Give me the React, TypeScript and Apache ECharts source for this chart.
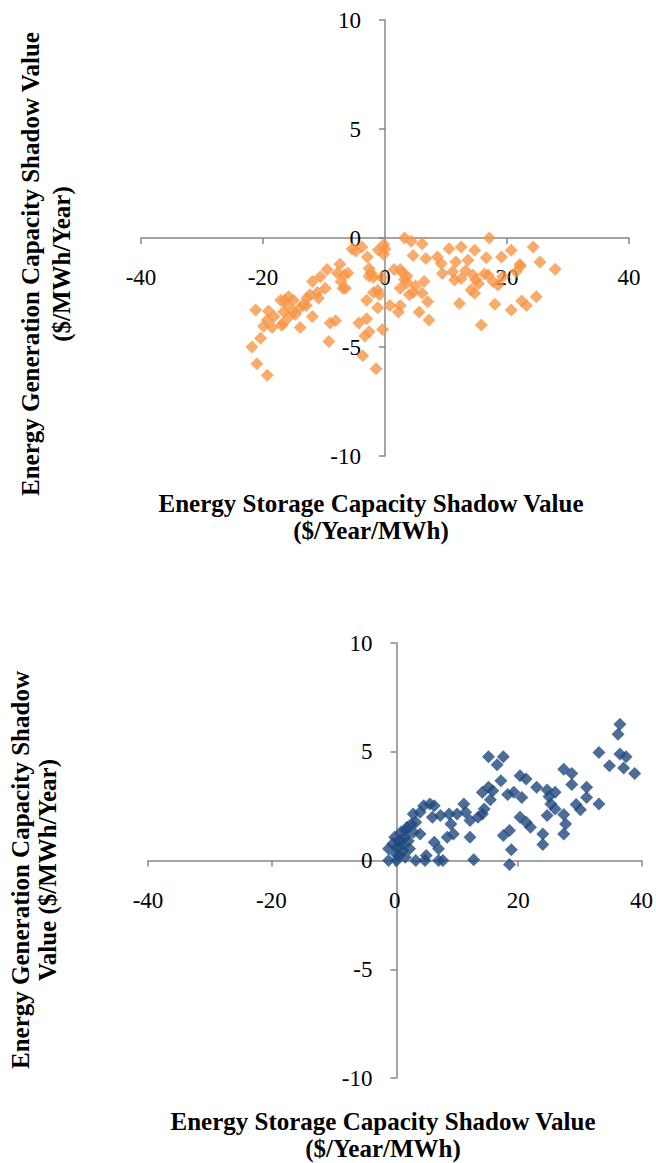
import React, { useEffect, useRef } from "react";
import * as echarts from "echarts";

const xTicks = [-40, -20, 0, 20, 40];
const yTicks = [-10, -5, 0, 5, 10];

const xTitleLines = ["Energy Storage Capacity Shadow Value", "($/Year/MWh)"];
const yTitleTopLines = ["Energy Generation Capacity Shadow Value", "($/MWh/Year)"];
const yTitleBottomLines = ["Energy Generation Capacity Shadow", "Value ($/MWh/Year)"];

// Top panel: [storage shadow value, generation shadow value]
const topScatter: [number, number][] = [
  [3.2, 0], [4.3, -0.15], [6.1, -0.26], [4.6, -0.8], [-5.4, -0.5], [-4.8, -0.6], [-3.8, -0.41],
  [-2.9, -0.87], [-1.1, -0.55], [-0.2, -0.3], [0, -0.5], [-0.2, -0.75],
  [17.1, 0], [24.3, -0.41], [20.7, -0.56], [25.4, -1.1], [27.9, -1.43], [22.1, -1.22], [19.1, -0.87],
  [16.6, -0.91], [14.7, -0.56], [12.5, -0.41], [10.5, -0.49], [13.6, -1.02], [11.6, -1.1], [8.6, -0.87],
  [9.2, -1.17], [6.7, -0.94], [9.4, -1.63], [11.1, -1.55], [11.4, -1.93], [12.5, -1.86], [14.4, -1.7],
  [14.9, -1.93], [16.9, -1.7], [17.7, -2.0], [18.5, -2.16], [19.3, -1.78], [14.1, -2.39], [14.7, -2.54],
  [12.2, -3.0], [18.0, -3.04], [20.7, -3.3], [22.4, -2.89], [23.2, -3.1], [24.8, -2.69], [15.8, -3.99],
  [7.0, -2.92], [7.2, -3.76], [6.4, -2.0], [6.1, -2.54], [15.3, -2.1], [16.3, -1.65], [13.2, -1.5],
  [21.5, -1.55], [22.2, -1.3],
  [1.5, -1.45], [2.5, -1.45], [2.9, -1.6], [3.6, -1.75], [3.2, -1.9], [3.6, -2.05], [5.0, -2.2],
  [4.6, -2.5], [2.5, -2.3], [2.5, -3.1], [2.2, -3.4], [0.8, -3.1], [5.6, -3.4], [4.0, -2.6],
  [-1.2, -2.4], [-0.9, -2.6], [-1.9, -2.5], [-1.2, -3.2], [-3.0, -2.85], [-2.3, -1.6], [-1.9, -1.8],
  [-2.6, -1.4], [-0.55, -1.8], [-2.6, -1.76], [-3.0, -3.7], [-4.3, -3.9], [-2.6, -4.3], [-3.3, -4.5],
  [-0.4, -4.2], [-3.65, -5.4], [-1.45, -6.0],
  [-8.1, -3.8], [-9.0, -3.9], [-9.2, -4.75], [-7.4, -1.2], [-9.5, -1.45], [-7.8, -1.6], [-6.7, -1.7],
  [-6.1, -1.6], [-7.2, -2.0], [-6.5, -2.3], [-6.9, -2.3], [-9.8, -2.3], [-10.6, -1.78], [-11.9, -2.0],
  [-11.1, -2.5], [-10.9, -2.75], [-12.3, -2.6], [-12.8, -2.75], [-12.9, -3.1], [-13.9, -3.2],
  [-13.4, -3.05], [-14.7, -3.5], [-15.7, -3.6], [-16.7, -3.9], [-17.1, -2.85], [-16.4, -2.85],
  [-15.8, -2.7], [-15.0, -2.85], [-16.0, -3.1], [-16.6, -3.38], [-15.0, -3.38], [-13.9, -4.1],
  [-11.9, -3.6], [-18.2, -3.6], [-19.1, -3.35], [-21.2, -3.3], [-19.3, -3.76], [-19.9, -4.05],
  [-18.5, -4.1], [-16.9, -4.0], [-20.4, -4.6], [-21.8, -5.0], [-21.0, -5.77], [-19.3, -6.3],
];

// Bottom panel: [storage shadow value, generation shadow value]
const bottomScatter: [number, number][] = [
  [36.5, 6.27], [36.2, 5.81], [33.1, 4.97], [36.5, 4.9], [37.5, 4.77], [34.8, 4.36], [37.1, 4.25],
  [38.9, 4.0], [15.2, 4.77], [17.6, 4.77], [16.6, 4.4], [17.2, 3.67], [20.3, 3.9], [21.3, 3.75],
  [23.0, 3.37], [27.4, 4.2], [28.7, 4.0], [28.7, 3.5], [31.1, 3.37], [31.1, 2.9], [33.1, 2.6],
  [29.4, 2.57], [30.1, 2.33], [24.7, 3.24], [26.0, 3.14], [25.0, 2.94], [25.3, 2.6], [26.0, 2.37],
  [24.7, 2.07], [27.4, 2.11], [27.7, 1.68], [27.4, 1.22], [24.0, 1.22], [24.0, 0.73], [20.6, 2.9],
  [19.3, 3.14], [18.3, 3.03], [20.3, 1.99], [21.3, 1.76], [22.0, 1.53], [17.6, 1.15], [18.6, 1.38],
  [18.9, 0.49], [18.6, -0.18], [14.2, 3.14], [15.2, 3.37], [15.9, 3.21], [15.5, 2.79], [14.5, 2.37],
  [14.2, 2.14], [13.5, 1.99], [11.2, 2.6], [11.5, 2.22], [12.2, 1.84], [10.1, 2.14], [8.8, 2.14],
  [9.1, 1.68], [9.5, 1.22], [8.5, 1.07], [12.2, 1.07], [12.8, 0.03], [7.4, 2.07], [6.4, 2.52],
  [5.7, 2.6], [4.7, 2.52], [4.1, 2.22], [3.0, 2.14], [3.4, 1.76], [6.1, 1.99], [6.4, 0.84],
  [7.1, 0.54], [7.8, 0], [7.1, 0], [5.1, 0.23], [4.9, 0], [3.4, 0], [4.1, 1.22], [3.0, 1.3],
  [2.0, 1.53], [1.7, 1.07], [1.0, 0.92], [0, 1.07], [-0.3, 0.77], [-1.0, 0.54], [0.3, 0.61],
  [1.35, 0.46], [2.4, 0.54], [0.7, 0.23], [1.7, 0.15], [-1.0, 0], [0.3, 0], [1.0, 1.3], [1.7, 1.38],
  [2.7, 1.68], [0.7, 0.92], [0.2, 0.3], [1.2, 0.7], [2.2, 0.9],
];

const TICK_FONT = "Liberation Serif";
const TITLE_FONT = "bold 25px 'Liberation Serif'";
const AXIS_GRAY = "#878787";

// Grid geometry: each axis is shifted from the grid edge to cross at zero.
const grids = [
  { left: 141, top: 20, width: 488, height: 436 },
  { left: 148, top: 643, width: 497, height: 435 },
];

function xAxisFor(gridIndex: number) {
  const g = grids[gridIndex];
  return {
    type: "value",
    gridIndex,
    position: "bottom",
    offset: -g.height / 2,
    min: xTicks[0],
    max: xTicks[xTicks.length - 1],
    interval: 20,
    axisLine: { onZero: false, lineStyle: { color: AXIS_GRAY, width: 1.5 } },
    axisTick: { show: true, inside: false, length: 6, lineStyle: { color: AXIS_GRAY, width: 1.5 } },
    axisLabel: { margin: 28, color: "#000", fontSize: 23, fontFamily: TICK_FONT },
    splitLine: { show: false },
  };
}

function yAxisFor(gridIndex: number) {
  const g = grids[gridIndex];
  return {
    type: "value",
    gridIndex,
    position: "left",
    offset: -g.width / 2,
    min: yTicks[0],
    max: yTicks[yTicks.length - 1],
    interval: 5,
    axisLine: { onZero: false, lineStyle: { color: AXIS_GRAY, width: 1.5 } },
    axisTick: { show: true, inside: false, length: 6, lineStyle: { color: AXIS_GRAY, width: 1.5 } },
    axisLabel: { margin: 24, color: "#000", fontSize: 23, fontFamily: TICK_FONT },
    splitLine: { show: false },
  };
}

function textEl(text: string, x: number, y: number, rotate = false) {
  return {
    type: "text",
    x,
    y,
    rotation: rotate ? Math.PI / 2 : 0,
    style: {
      text,
      font: TITLE_FONT,
      fill: "#000",
      textAlign: "center",
      textVerticalAlign: "middle",
    },
  };
}

export default function App() {
  const ref = useRef<HTMLDivElement>(null);

  useEffect(() => {
    if (!ref.current) return;
    const chart = echarts.init(ref.current, null, { renderer: "svg" });
    chart.setOption({
      animation: false,
      backgroundColor: "#ffffff",
      grid: grids.map((g) => ({ ...g, containLabel: false })),
      xAxis: [xAxisFor(0), xAxisFor(1)],
      yAxis: [yAxisFor(0), yAxisFor(1)],
      series: [
        {
          type: "scatter",
          xAxisIndex: 0,
          yAxisIndex: 0,
          data: topScatter,
          symbol: "diamond",
          symbolSize: 13,
          itemStyle: { color: "#F79646" },
        },
        {
          type: "scatter",
          xAxisIndex: 1,
          yAxisIndex: 1,
          data: bottomScatter,
          symbol: "diamond",
          symbolSize: 13,
          itemStyle: { color: "#1F497D" },
        },
      ],
      graphic: [
        textEl(yTitleTopLines[0], 30, 264, true),
        textEl(yTitleTopLines[1], 61, 264, true),
        textEl(xTitleLines[0], 371, 503),
        textEl(xTitleLines[1], 371, 530),
        textEl(yTitleBottomLines[0], 20, 870, true),
        textEl(yTitleBottomLines[1], 47, 870, true),
        textEl(xTitleLines[0], 383, 1121),
        textEl(xTitleLines[1], 383, 1148),
      ],
    });
    return () => chart.dispose();
  }, []);

  return (
    <div
      ref={ref}
      style={{ position: "absolute", left: 0, top: 0, width: 656, height: 1163 }}
    />
  );
}
